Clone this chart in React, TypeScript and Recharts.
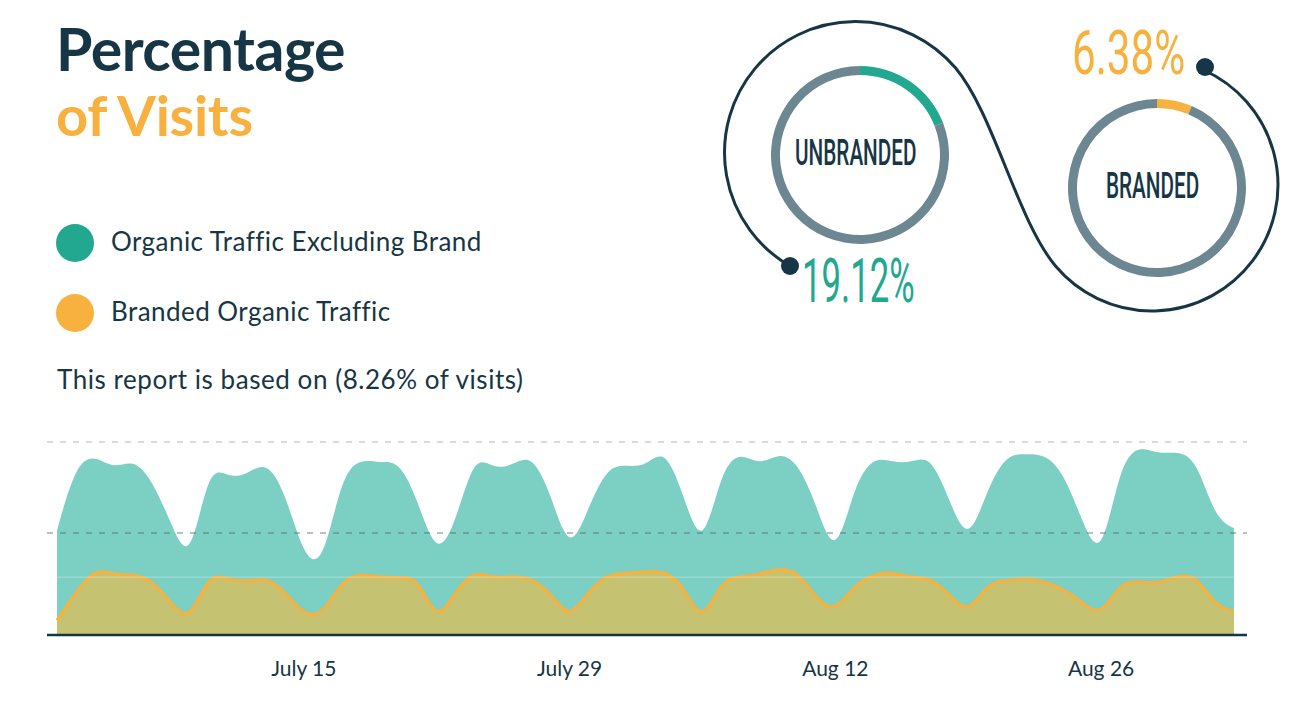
import React from 'react';
import {
  AreaChart,
  Area,
  XAxis,
  YAxis,
  ReferenceLine,
  PieChart,
  Pie,
  Cell,
} from 'recharts';

// daily share of visits, July 2 – Sept 2
const organicExBrand = [
  16.3, 25.2, 27.4, 26.4, 26.6, 23.6, 17.4, 14.3, 23.6, 24.9,
  25.2, 26.0, 21.5, 13.5, 13.2, 23.0, 26.9, 26.9, 26.1, 20.5,
  14.3, 18.3, 26.1, 26.3, 26.6, 26.9, 21.5, 15.2, 19.7, 25.2,
  26.3, 26.7, 27.5, 21.5, 16.3, 24.1, 27.7, 27.0, 27.8, 26.1,
  19.9, 14.8, 22.1, 26.9, 27.0, 27.0, 26.7, 21.0, 16.5, 22.1,
  27.2, 28.1, 27.7, 24.6, 17.9, 14.8, 24.6, 28.8, 28.4, 28.3,
  26.1, 19.4, 16.6,
];
const brandedOrganic = [
  2.3, 6.5, 9.6, 9.5, 9.3, 8.1, 5.0, 3.6, 8.2, 8.7,
  8.4, 8.5, 6.5, 3.6, 3.9, 7.8, 9.3, 9.0, 8.9, 7.8,
  3.7, 6.5, 9.3, 9.0, 9.0, 8.5, 6.2, 3.7, 6.5, 9.0,
  9.6, 9.8, 9.6, 7.0, 3.6, 7.5, 9.0, 9.5, 10.1, 9.3,
  5.9, 4.5, 7.3, 9.2, 9.6, 9.0, 8.5, 6.2, 4.4, 7.3,
  8.4, 8.7, 8.2, 7.0, 5.0, 4.0, 7.3, 8.2, 8.2, 9.0,
  8.5, 5.1, 3.6,
];
const months = [
  { name: 'July', from: 2, to: 31 },
  { name: 'Aug', from: 1, to: 31 },
  { name: 'Sep', from: 1, to: 2 },
];
const tickLabels = ['July 15', 'July 29', 'Aug 12', 'Aug 26'];

const unbrandedShare = [
  { name: 'Unbranded', value: 19.12 },
  { name: 'Rest', value: 80.88 },
];
const brandedShare = [
  { name: 'Branded', value: 6.38 },
  { name: 'Rest', value: 93.62 },
];

const days: string[] = [];
months.forEach((m) => {
  for (let d = m.from; d <= m.to; d++) days.push(`${m.name} ${d}`);
});
const data = days.map((day, i) => ({
  day,
  organic: organicExBrand[i],
  branded: brandedOrganic[i],
}));

const NAVY = '#173645';
const TEAL = '#22a88f';
const ORANGE = '#f8b13e';
const RING = '#6d8792';
const FONT = 'Lato, sans-serif';

const condensed = (scale: number, extra: React.CSSProperties): React.CSSProperties => ({
  position: 'absolute',
  fontFamily: 'Roboto, sans-serif',
  whiteSpace: 'nowrap',
  transform: `scaleX(${scale})`,
  transformOrigin: 'left top',
  lineHeight: 1,
  ...extra,
});

const Ring: React.FC<{
  share: { name: string; value: number }[];
  color: string;
  left: number;
  top: number;
}> = ({ share, color, left, top }) => (
  <div style={{ position: 'absolute', left, top }}>
    <PieChart width={190} height={190}>
      <Pie
        data={share}
        dataKey="value"
        cx={95}
        cy={95}
        innerRadius={80}
        outerRadius={89}
        startAngle={90}
        endAngle={-270}
        stroke="none"
        isAnimationActive={false}
      >
        <Cell fill={color} />
        <Cell fill={RING} />
      </Pie>
    </PieChart>
  </div>
);

const App: React.FC = () => {
  return (
    <div
      style={{
        position: 'absolute',
        left: 0,
        top: 0,
        width: 1316,
        height: 715,
        background: '#fff',
        overflow: 'hidden',
        fontFamily: FONT,
      }}
    >
      {/* title */}
      <div
        style={{
          position: 'absolute',
          left: 56,
          top: 19,
          fontSize: 59,
          fontWeight: 700,
          color: NAVY,
          lineHeight: 1,
          letterSpacing: -0.5,
        }}
      >
        Percentage
      </div>
      <div
        style={{
          position: 'absolute',
          left: 56,
          top: 87,
          fontSize: 56,
          fontWeight: 700,
          color: ORANGE,
          lineHeight: 1,
          letterSpacing: -0.3,
        }}
      >
        of Visits
      </div>

      {/* legend */}
      {[
        { label: 'Organic Traffic Excluding Brand', color: TEAL, y: 243 },
        { label: 'Branded Organic Traffic', color: ORANGE, y: 313 },
      ].map((it) => (
        <div key={it.label}>
          <div
            style={{
              position: 'absolute',
              left: 56,
              top: it.y - 19,
              width: 38,
              height: 38,
              borderRadius: '50%',
              background: it.color,
            }}
          />
          <div
            style={{
              position: 'absolute',
              left: 111,
              top: it.y - 15,
              fontSize: 26,
              letterSpacing: 0.45,
              color: NAVY,
              lineHeight: 1,
            }}
          >
            {it.label}
          </div>
        </div>
      ))}
      <div
        style={{
          position: 'absolute',
          left: 57,
          top: 366,
          fontSize: 26,
          letterSpacing: 0.55,
          color: NAVY,
          lineHeight: 1,
        }}
      >
        This report is based on (8.26% of visits)
      </div>

      {/* swirl */}
      <svg
        width={1316}
        height={715}
        style={{ position: 'absolute', left: 0, top: 0 }}
      >
        <path
          d="M 790 266 A 131 131 0 1 1 955.4 67.8 C 994 113.8, 1017 220, 1055.5 266 A 126 126 0 1 0 1203.6 70"
          fill="none"
          stroke={NAVY}
          strokeWidth={3}
        />
        <circle cx={790} cy={266} r={9} fill={NAVY} />
        <circle cx={1205} cy={67} r={9} fill={NAVY} />
      </svg>

      <Ring share={unbrandedShare} color={TEAL} left={760} top={55} />
      <Ring share={brandedShare} color={ORANGE} left={1057} top={88} />

      <div style={condensed(0.56, { left: 795, top: 134, fontSize: 37, fontWeight: 500, color: NAVY })}>
        UNBRANDED
      </div>
      <div style={condensed(0.56, { left: 1106, top: 167, fontSize: 37, fontWeight: 500, color: NAVY })}>
        BRANDED
      </div>
      <div
        style={condensed(0.56, {
          left: 802,
          top: 250,
          fontSize: 62,
          fontWeight: 400,
          color: TEAL,
        })}
      >
        19.12%
      </div>
      <div
        style={condensed(0.68, {
          left: 1072,
          top: 22,
          fontSize: 62,
          fontWeight: 400,
          color: ORANGE,
        })}
      >
        6.38%
      </div>

      {/* area chart */}
      <div style={{ position: 'absolute', left: 0, top: 0 }}>
        <AreaChart
          width={1316}
          height={715}
          data={data}
          margin={{ top: 442, right: 69, left: 47, bottom: 40 }}
        >
          <XAxis
            dataKey="day"
            ticks={tickLabels}
            interval={0}
            height={40}
            padding={{ left: 10, right: 13 }}
            axisLine={{ stroke: NAVY, strokeWidth: 2.5 }}
            tickLine={false}
            tickMargin={20}
            tick={{ fill: NAVY, fontSize: 21, fontFamily: FONT }}
          />
          <YAxis hide domain={[0, 30]} />
          <ReferenceLine y={30} stroke="#cfcfcf" strokeDasharray="6 7" strokeWidth={1.5} />
          <Area
            type="natural"
            dataKey="organic"
            stroke="none"
            fill="#7bcfc3"
            fillOpacity={1}
            isAnimationActive={false}
          />
          <ReferenceLine y={9} stroke="#ffffff" strokeOpacity={0.35} strokeWidth={1} />
          <Area
            type="natural"
            dataKey="branded"
            stroke="#f0b446"
            strokeWidth={3.5}
            fill="#f6b93b"
            fillOpacity={0.6}
            isAnimationActive={false}
          />
          <ReferenceLine
            y={15.85}
            stroke="#4f6a6a"
            strokeOpacity={0.55}
            strokeDasharray="6 7"
            strokeWidth={1.5}
          />
        </AreaChart>
      </div>
    </div>
  );
};

export default App;
